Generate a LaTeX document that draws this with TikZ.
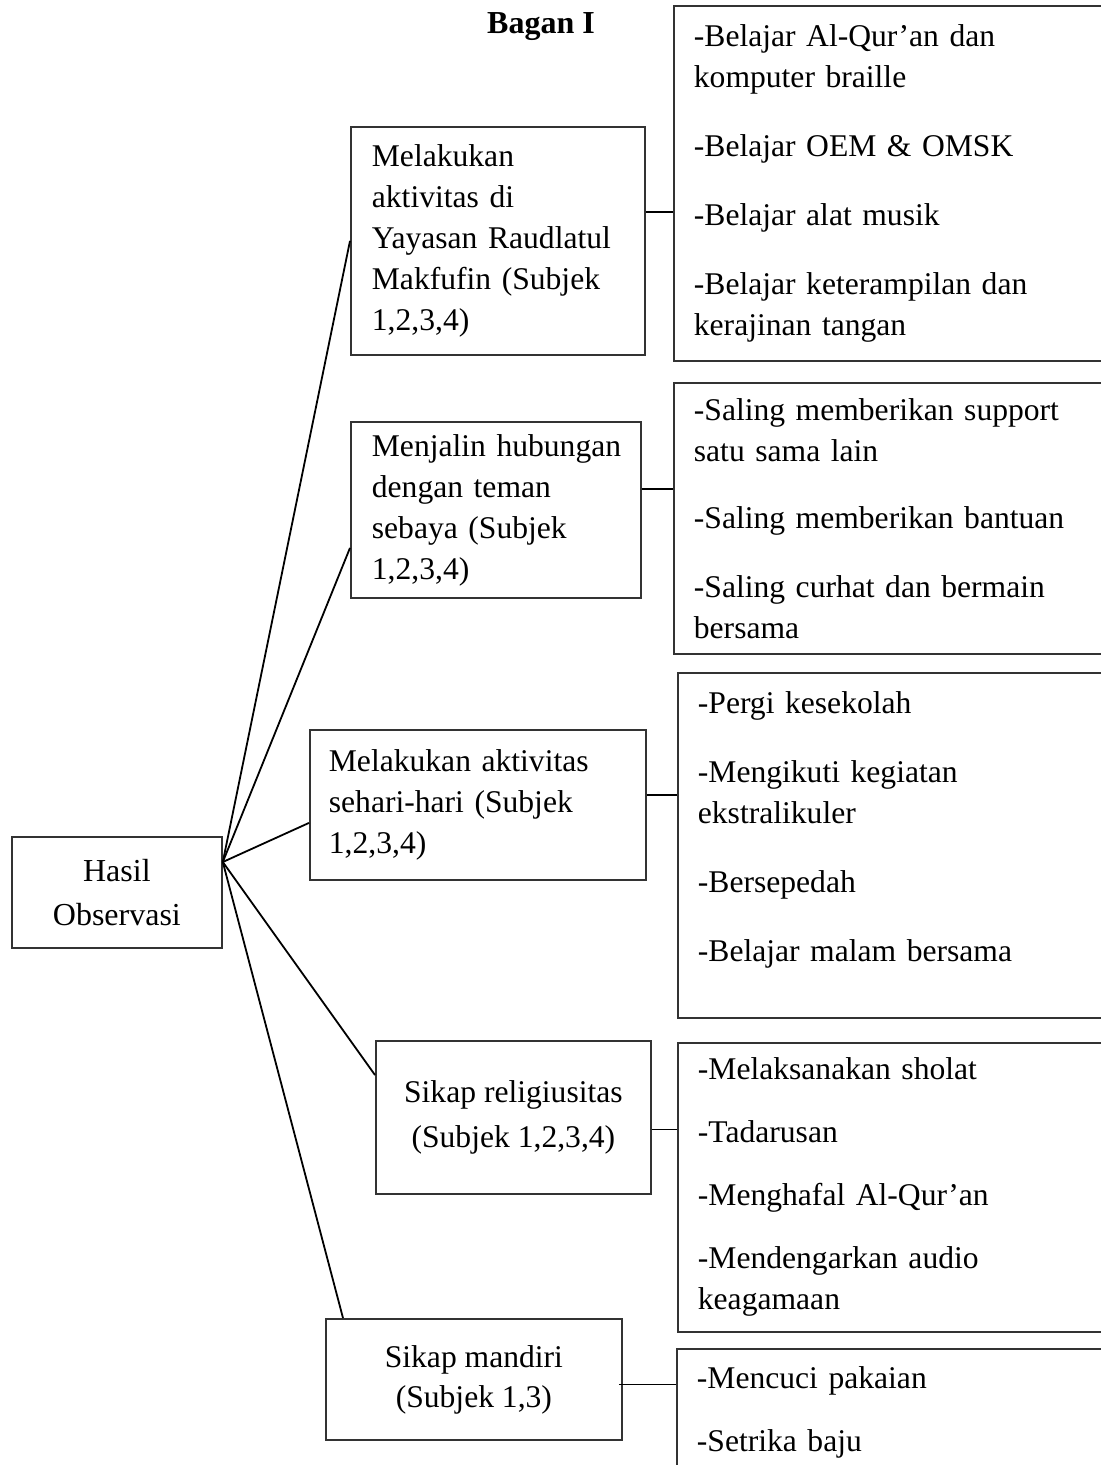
\documentclass[tikz,border=0pt]{standalone}
\usepackage{fontspec}
\setmainfont{Liberation Serif}
\usetikzlibrary{calc}
\begin{document}
\begin{tikzpicture}[x=0.5pt,y=-0.5pt,
  frame/.style={draw=black!80, line width=0.9pt, rectangle, inner ysep=0pt,
    font=\fontsize{15.8}{20.5}\selectfont},
  leftbox/.style={frame, align=left, anchor=north west},
  midbox/.style={frame, align=center, anchor=north west, inner xsep=0pt},
  link/.style={draw=black, line width=0.9pt}]

% page area
\fill[white] (0,0) rectangle (1101,1465);
\clip (0,0) rectangle (1101,1465);

% heading
\node[font=\fontsize{16}{19}\selectfont\bfseries] (title) at (541,27) {Bagan I};

% root
\node[midbox, minimum width=105pt, minimum height=55.5pt,
  font=\fontsize{16}{22}\selectfont] (hasil) at (11,836) {Hasil\\Observasi};

% categories
\node[leftbox, inner xsep=10.5pt, text width=126pt, minimum height=114pt] (b1) at (350,126)
  {\mbox{Melakukan}\\\mbox{aktivitas di}\\\mbox{Yayasan Raudlatul}\\\mbox{Makfufin (Subjek}\\\mbox{1,2,3,4)}};
\node[leftbox, inner xsep=10.5pt, text width=124pt, minimum height=88pt] (b2) at (350,421)
  {\mbox{Menjalin hubungan}\\\mbox{dengan teman}\\\mbox{sebaya (Subjek}\\\mbox{1,2,3,4)}};
\node[leftbox, inner xsep=9.5pt, text width=149pt, minimum height=75pt] (b3) at (309,729)
  {\mbox{Melakukan aktivitas}\\\mbox{sehari-hari (Subjek}\\\mbox{1,2,3,4)}};
\node[midbox, minimum width=137.5pt, minimum height=76.5pt,
  font=\fontsize{15.8}{22.5}\selectfont] (b4) at (375,1040)
  {Sikap religiusitas\\(Subjek 1,2,3,4)};
\node[midbox, minimum width=148pt, minimum height=60.5pt,
  font=\fontsize{15.8}{20}\selectfont] (b5) at (325,1318)
  {Sikap mandiri\\(Subjek 1,3)};

% details
\node[leftbox, inner xsep=10pt, text width=210pt, minimum height=177.5pt] (r1) at (673,5)
  {-Belajar Al-Qur’an dan\\komputer braille\\[14pt]-Belajar OEM \& OMSK\\[14pt]-Belajar alat musik\\[14pt]-Belajar keterampilan dan\\kerajinan tangan};
\node[leftbox, inner xsep=10pt, text width=210pt, minimum height=135.5pt] (r2) at (673,382)
  {-Saling memberikan support\\satu sama lain\\[13pt]-Saling memberikan bantuan\\[14pt]-Saling curhat dan bermain\\bersama};
\node[leftbox, inner xsep=10pt, text width=210pt, minimum height=172.5pt] (r3) at (677,672)
  {-Pergi kesekolah\\[14pt]-Mengikuti kegiatan\\ekstralikuler\\[14pt]-Bersepedah\\[14pt]-Belajar malam bersama\\[-2pt]\mbox{}};
\node[leftbox, inner xsep=10pt, text width=210pt, minimum height=144.5pt] (r4) at (677,1042)
  {-Melaksanakan sholat\\[11pt]-Tadarusan\\[11pt]-Menghafal Al-Qur’an\\[11pt]-Mendengarkan audio\\keagamaan};
\node[leftbox, inner xsep=10pt, text width=210pt, minimum height=63.5pt] (r5) at (676,1348)
  {-Mencuci pakaian\\[11pt]-Setrika baju};

% fan from the root
\coordinate (hub) at ($(hasil.north east)+(0,26)$);
\draw[link] (hub) -- (b1.west);
\draw[link] (hub) -- ($(b2.west)+(0,38)$);
\draw[link] (hub) -- ($(b3.west)+(0,18)$);
\draw[link] (hub) -- ($(b4.north west)+(0,35)$);
\draw[link] (hub) -- ($(b5.north west)+(18,0)$);

% category to detail
\draw[link] ($(b1.east)+(0,-29)$) coordinate (k1) -- (k1 -| r1.west);
\draw[link] ($(b2.east)+(0,-21)$) coordinate (k2) -- (k2 -| r2.west);
\draw[link] ($(b3.east)+(0,-10)$) coordinate (k3) -- (k3 -| r3.west);
\draw[link] ($(b4.east)+(0,12)$) coordinate (k4) -- (k4 -| r4.west);
\draw[link] ($(b5.east)+(-4,5)$) coordinate (k5) -- (k5 -| r5.west);
\end{tikzpicture}
\end{document}
